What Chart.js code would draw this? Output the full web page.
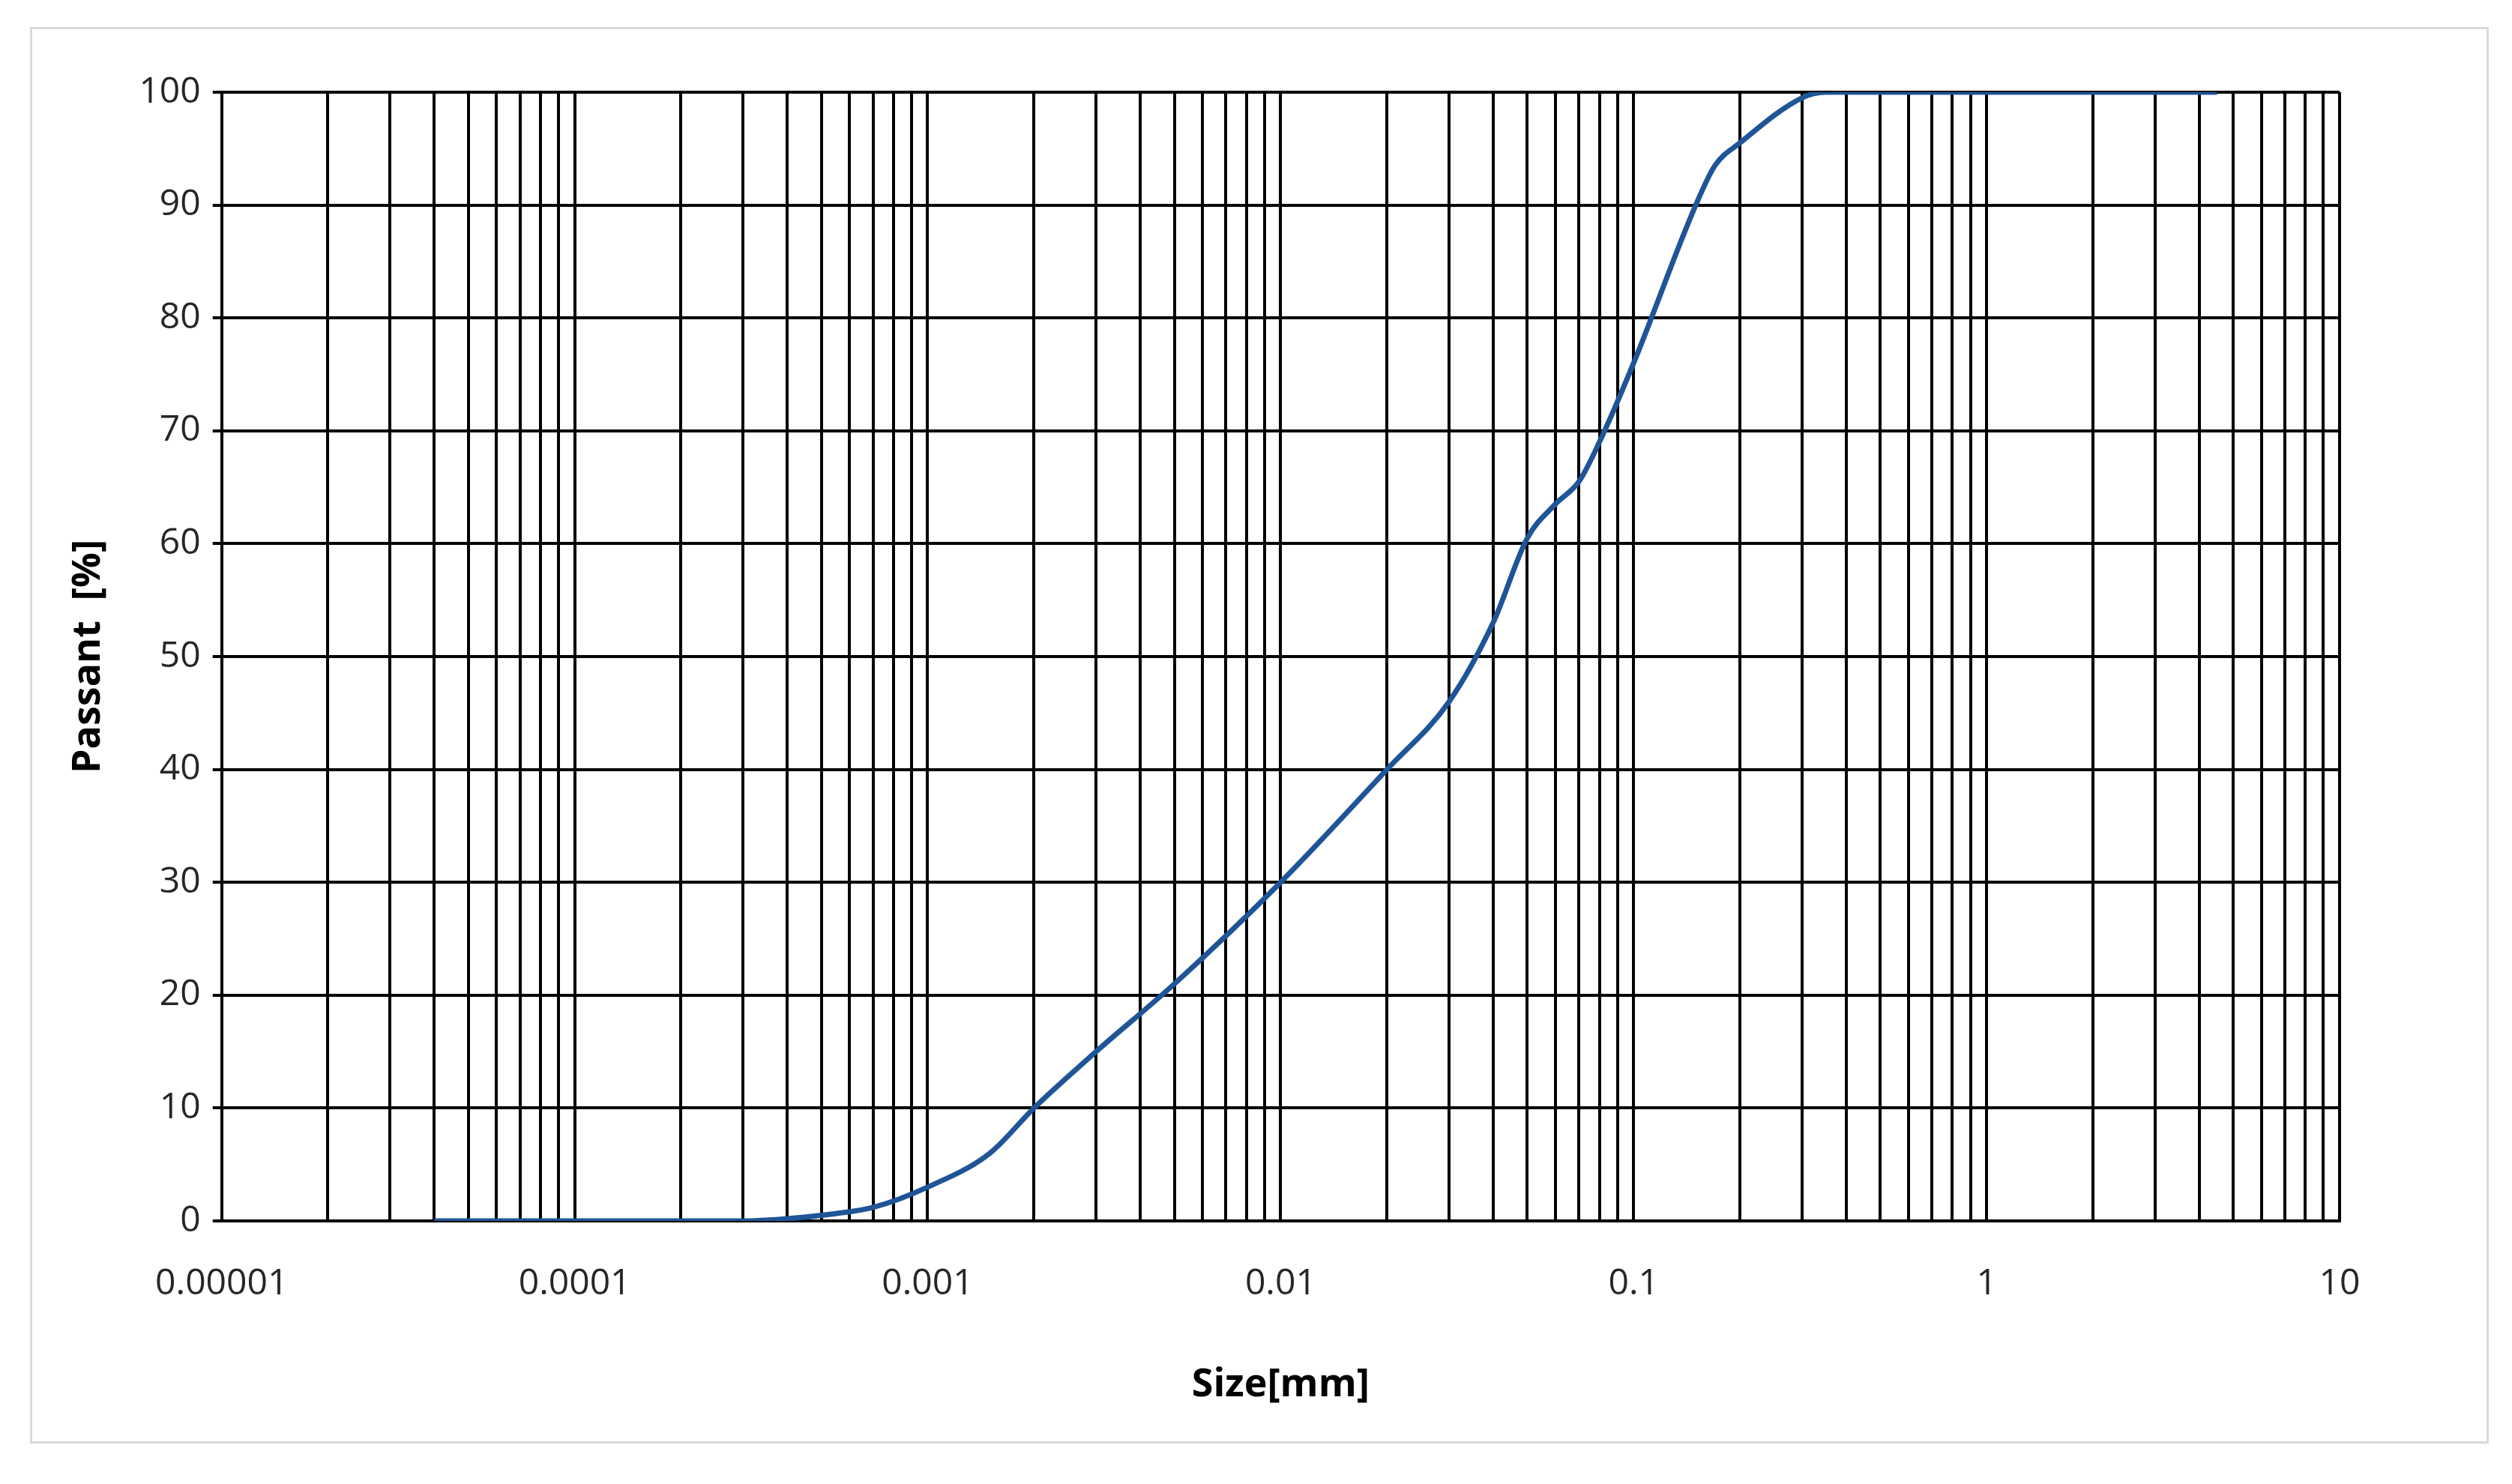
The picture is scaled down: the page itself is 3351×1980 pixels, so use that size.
<!DOCTYPE html>
<html>
<head>
<meta charset="utf-8">
<script src="https://cdn.jsdelivr.net/npm/chart.js@4"></script>
<style>
  html, body { margin: 0; background: #fff; }
  #frame {
    position: absolute; left: 40px; top: 36px;
    width: 3280px; height: 1890px;
    border: 3px solid #d9d9d9; box-sizing: border-box;
  }
  #chart { display: block; }
</style>
</head>
<body>
<div id="frame"><canvas id="chart" width="3274" height="1884"></canvas></div>
<script>
// Grain size distribution
const sizes = [0.00004, 0.0001, 0.0002, 0.0003, 0.0004, 0.0005, 0.0007, 0.001, 0.0015, 0.002,
               0.003, 0.005, 0.01, 0.02, 0.03, 0.04, 0.05, 0.06, 0.07, 0.08, 0.1, 0.15,
               0.17, 0.2, 0.3, 0.35, 1, 4.5];
const passing = [0, 0, 0, 0, 0.2, 0.5, 1.2, 3, 6, 10,
                 15, 21, 30, 40, 46, 53, 60.5, 63.5, 65.5, 69, 76, 90,
                 93.5, 95.5, 99.5, 100, 100, 100];
const decadeLabels = ["0.00001", "0.0001", "0.001", "0.01", "0.1", "1", "10"];

const font = "'Open Sans', 'Liberation Sans', sans-serif";

/**
 * Alla log-ticks 1..9 per dekad, etikett bara på tiopotenser.
 */
function logTicks(scale) {
  const ticks = [];
  for (let e = -5; e <= 1; e++) {
    for (let m = 1; m <= 9; m++) {
      if (e === 1 && m > 1) break;
      ticks.push({ value: Number((m * Math.pow(10, e)).toPrecision(3)), major: m === 1 });
    }
  }
  scale.ticks = ticks;
}

new Chart(document.getElementById("chart"), {
  type: "line",
  data: {
    datasets: [{
      data: sizes.map((s, i) => ({ x: s, y: passing[i] })),
      borderColor: "#1f5597",
      borderWidth: 7,
      pointRadius: 0,
      cubicInterpolationMode: "monotone",
      fill: false,
    }],
  },
  options: {
    responsive: false,
    animation: false,
    devicePixelRatio: 1,
    layout: { padding: { left: 40, right: 196, top: 84, bottom: 40 } },
    plugins: { legend: { display: false }, tooltip: { enabled: false } },
    scales: {
      x: {
        type: "logarithmic",
        min: 0.00001, max: 10,
        afterBuildTicks: logTicks,
        grid: { color: "#000", lineWidth: 4, drawTicks: false },
        border: { color: "#000", width: 4 },
        ticks: {
          autoSkip: false, maxRotation: 0, padding: 56,
          color: "#262626", font: { family: font, size: 48 },
          callback: (v) => {
            const e = Math.round(Math.log10(v));
            return Math.abs(v - Math.pow(10, e)) < 1e-12 ? decadeLabels[e + 5] : "";
          },
        },
        title: { display: true, text: "Size[mm]", color: "#000", padding: { top: 18 },
                 font: { family: font, size: 52, weight: "bold" } },
      },
      y: {
        min: 0, max: 100,
        grid: { color: "#000", lineWidth: 4, drawTicks: true, tickLength: 12 },
        border: { color: "#000", width: 4 },
        ticks: { stepSize: 10, padding: 16, color: "#262626", font: { family: font, size: 48 } },
        title: { display: true, text: "Passant  [%]", color: "#000", padding: { bottom: 20 },
                 font: { family: font, size: 52, weight: "bold" } },
      },
    },
  },
});
</script>
</body>
</html>
